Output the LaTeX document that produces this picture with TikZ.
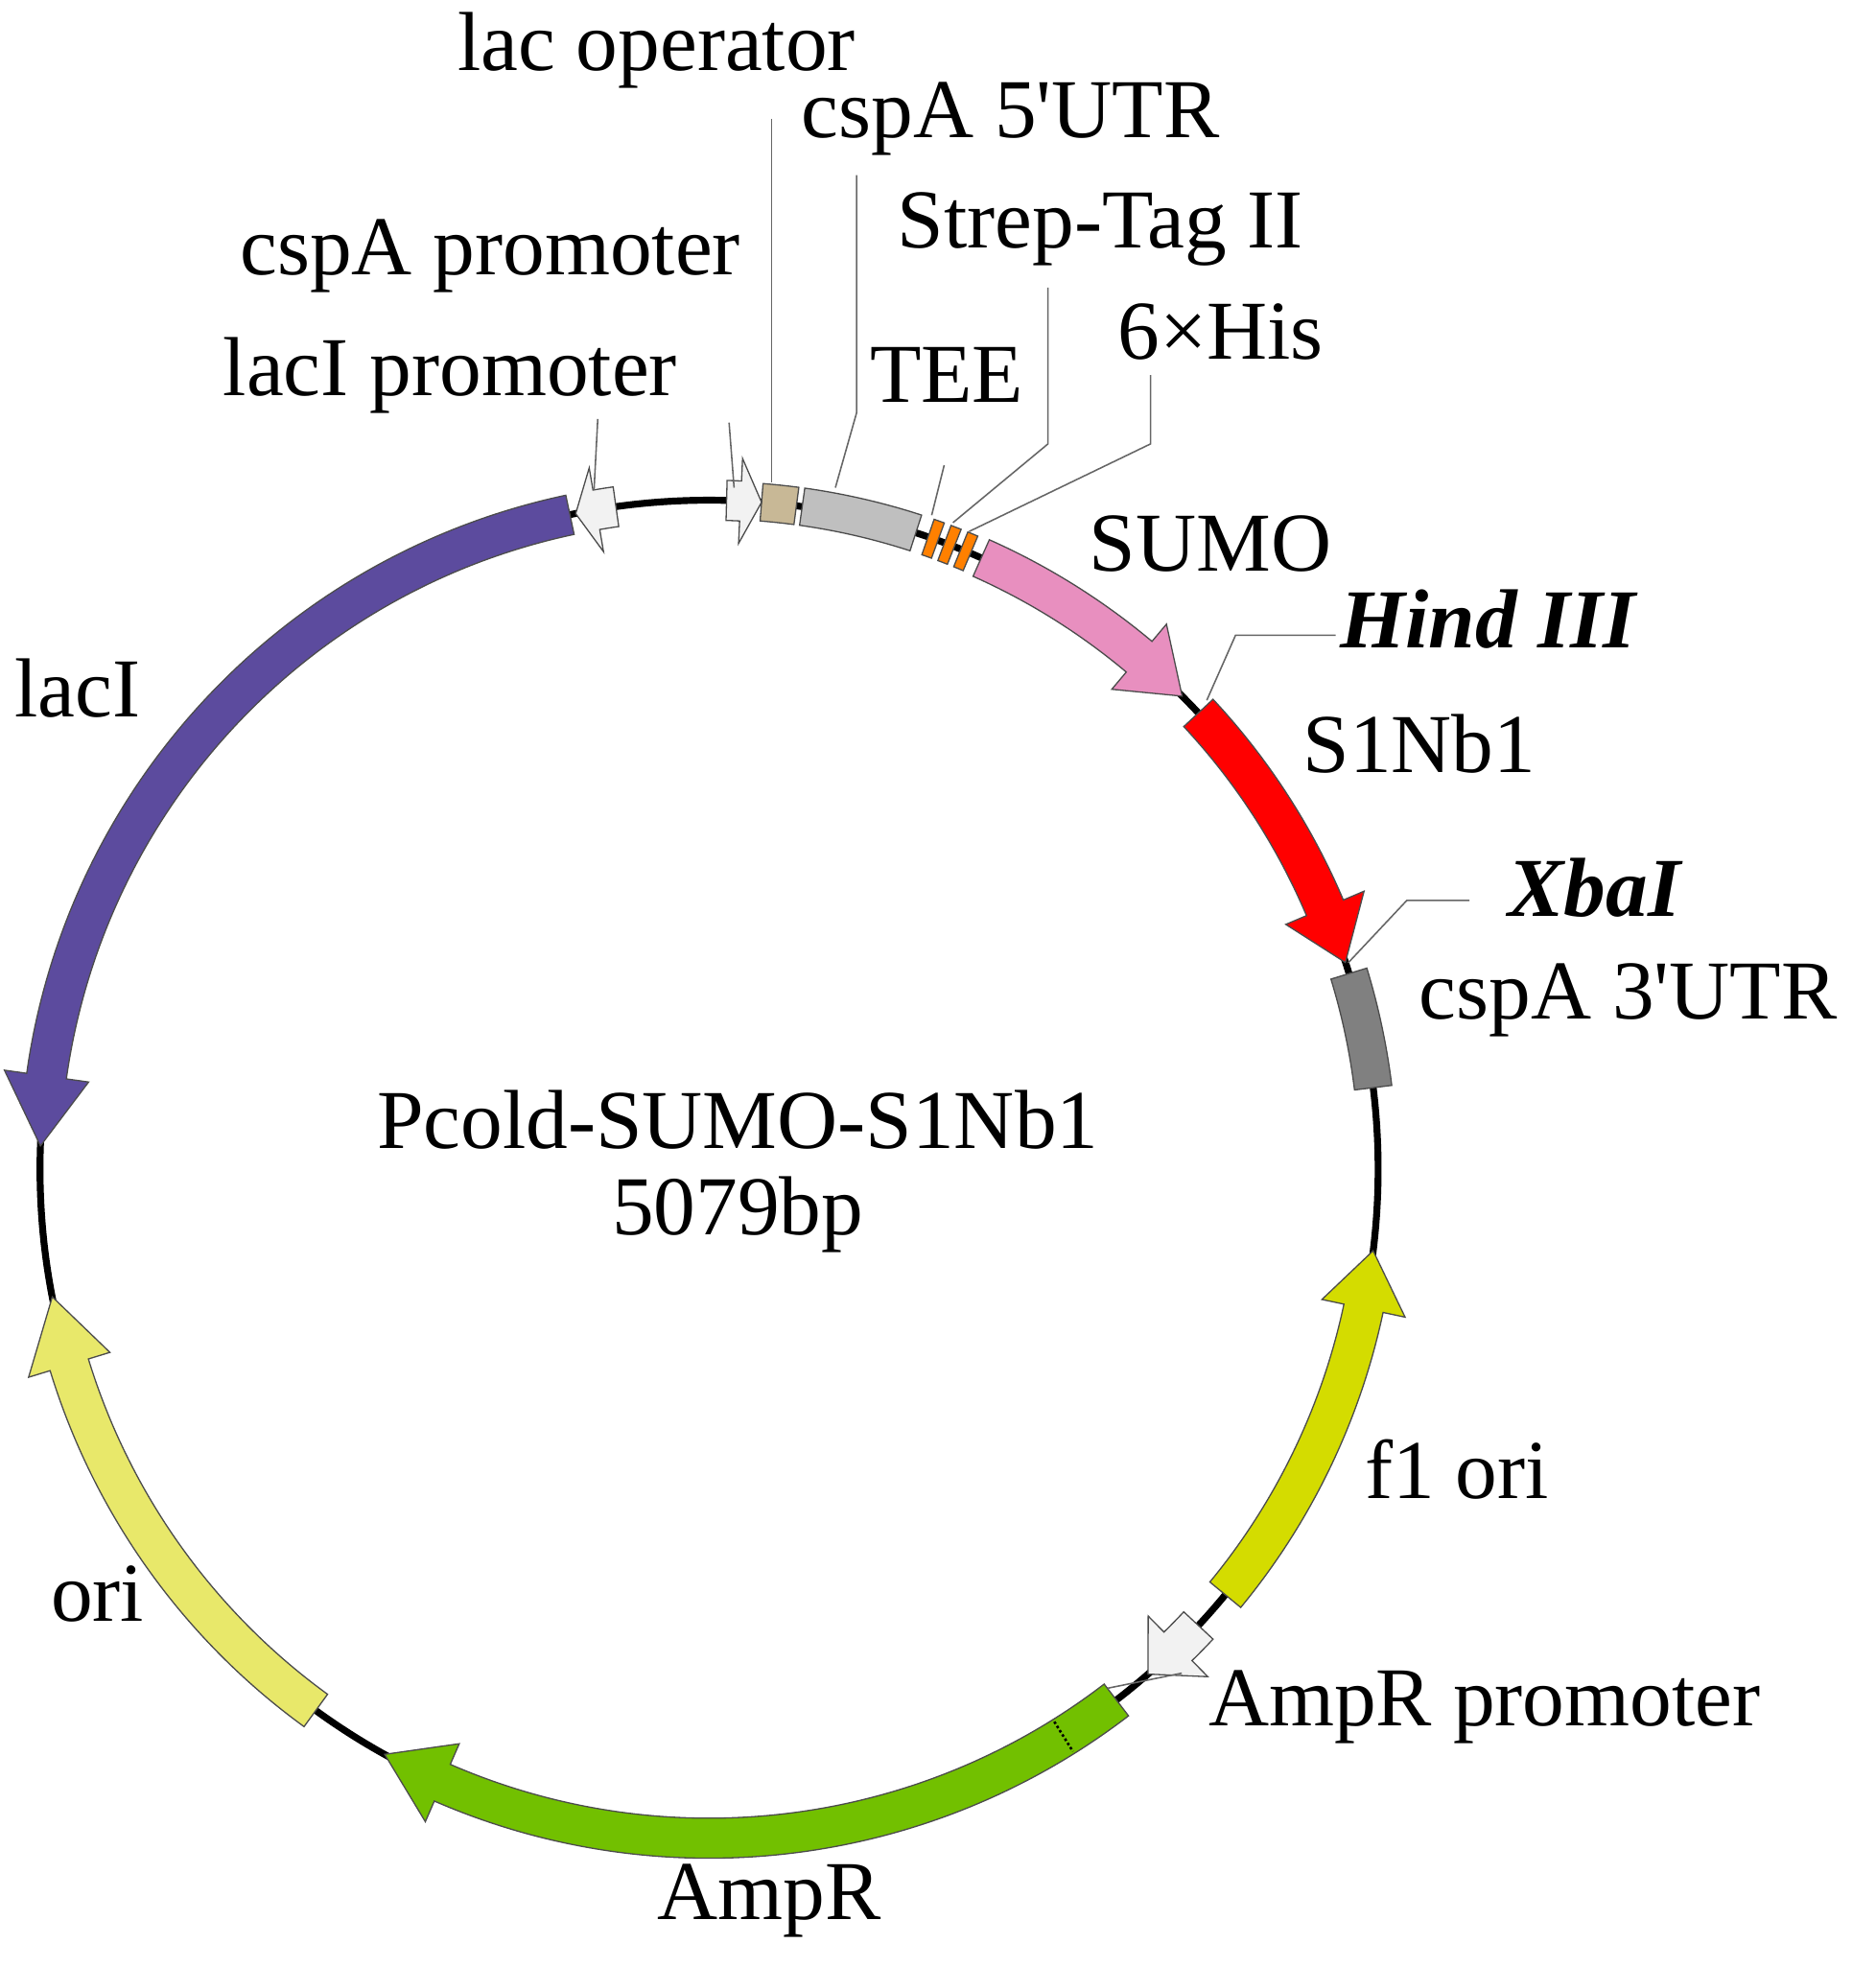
\documentclass[tikz,border=0pt]{standalone}
\usepackage{fontspec}
\setmainfont{Liberation Serif}
\begin{document}
\begin{tikzpicture}[x=1pt,y=1pt,
  lbl/.style={font=\fontsize{67}{69}\selectfont,inner sep=0pt},
  lead/.style={draw=black!60,line width=1.2pt},
  band/.style={draw=black!70,line width=1pt}]
\definecolor{cLacI}{HTML}{5C4B9E}
\definecolor{cOri}{HTML}{E8E86A}
\definecolor{cAmp}{HTML}{72C000}
\definecolor{cF1}{HTML}{D4DC00}
\definecolor{cSumo}{HTML}{E88FBF}
\definecolor{cLacOp}{HTML}{C8B896}
\useasboundingbox (0,0) rectangle (1500,-1573);
\def\R{535}
\newcommand\plasarrow[4]{% start, tip, head (signed deg), color
  \pgfmathsetmacro\bb{#2-(#3)}
  \fill[#4,band] (#1:\R+16) arc[start angle=#1,end angle=\bb,radius=\R+16]
    -- (\bb:\R+34) -- (#2:\R) -- (\bb:\R-34) -- (\bb:\R-16)
    arc[start angle=\bb,end angle=#1,radius=\R-16] -- cycle;}
\newcommand\plasbox[3]{%
  \fill[#3,band] (#1:\R+15) arc[start angle=#1,end angle=#2,radius=\R+15]
   -- (#2:\R-15) arc[start angle=#2,end angle=#1,radius=\R-15] -- cycle;}
\begin{scope}[shift={(567,-935)}]
\draw[line width=5.5pt] (0,0) circle[radius=\R];
\plasarrow{102}{178}{6}{cLacI}
\plasarrow{234}{191}{-6}{cOri}
\plasarrow{307.5}{241}{-5.5}{cAmp}
\plasarrow{320.5}{353}{5}{cF1}
\plasarrow{66}{45}{-5}{cSumo}
\plasarrow{43}{18}{-5}{red}
\plasbox{17}{7}{gray}
\plasbox{82}{72}{gray!50}
\plasbox{85.5}{82.5}{cLacOp}
\plasbox{70.9}{70}{orange}
\plasbox{69.4}{68.5}{orange}
\plasbox{67.9}{67}{orange}
\plasarrow{98}{101.5}{1.8}{gray!10}
\plasarrow{88.5}{85.5}{-1.8}{gray!10}
\plasarrow{317}{311}{-3.5}{gray!10}
\draw[dotted,line width=2pt] (302:\R-14) -- (302:\R+14);
\end{scope}
\node[lbl] (lacop) at (525,-40) {lac operator};
\node[lbl] (utr5) at (808,-95) {cspA 5\textquotesingle UTR};
\node[lbl] (strep) at (880,-183) {Strep-Tag II};
\node[lbl] (his) at (976,-265) {6×His};
\node[lbl] (tee) at (757,-300) {TEE};
\node[lbl] (cspp) at (392,-205) {cspA promoter};
\node[lbl] (lacip) at (360,-300) {lacI promoter};
\node[lbl] (sumo) at (968,-435) {SUMO};
\node[lbl,font=\fontsize{67}{69}\selectfont\bfseries\itshape] (hind) at (1190,-495) {Hind III};
\node[lbl] (s1) at (1135,-595) {S1Nb1};
\node[lbl,font=\fontsize{67}{69}\selectfont\bfseries\itshape] (xba) at (1275,-710) {XbaI};
\node[lbl] (utr3) at (1302,-800) {cspA 3\textquotesingle UTR};
\node[lbl] (f1) at (1165,-1175) {f1 ori};
\node[lbl] (ampp) at (1187,-1365) {AmpR promoter};
\node[lbl] (amp) at (615,-1520) {AmpR};
\node[lbl] (ori) at (78,-1275) {ori};
\node[lbl] (laci) at (62,-550) {lacI};
\node[lbl,align=center] (title) at (590,-937) {Pcold-SUMO-S1Nb1\\5079bp};
\draw[lead] (617,-95) -- (617,-386);
\draw[lead] (685,-140) -- (685,-330) -- (668,-390);
\draw[lead] (838,-230) -- (838,-355) -- (762,-418);
\draw[lead] (920,-300) -- (920,-355) -- (775,-425);
\draw[lead] (755,-372) -- (745,-412);
\draw[lead] (583,-338) -- (587,-390);
\draw[lead] (478,-335) -- (475,-392);
\draw[lead] (1068,-508) -- (988,-508) -- (965,-560);
\draw[lead] (1175,-720) -- (1125,-720) -- (1078,-770);
\draw[lead] (886,-1350) -- (945,-1338);
\end{tikzpicture}
\end{document}
